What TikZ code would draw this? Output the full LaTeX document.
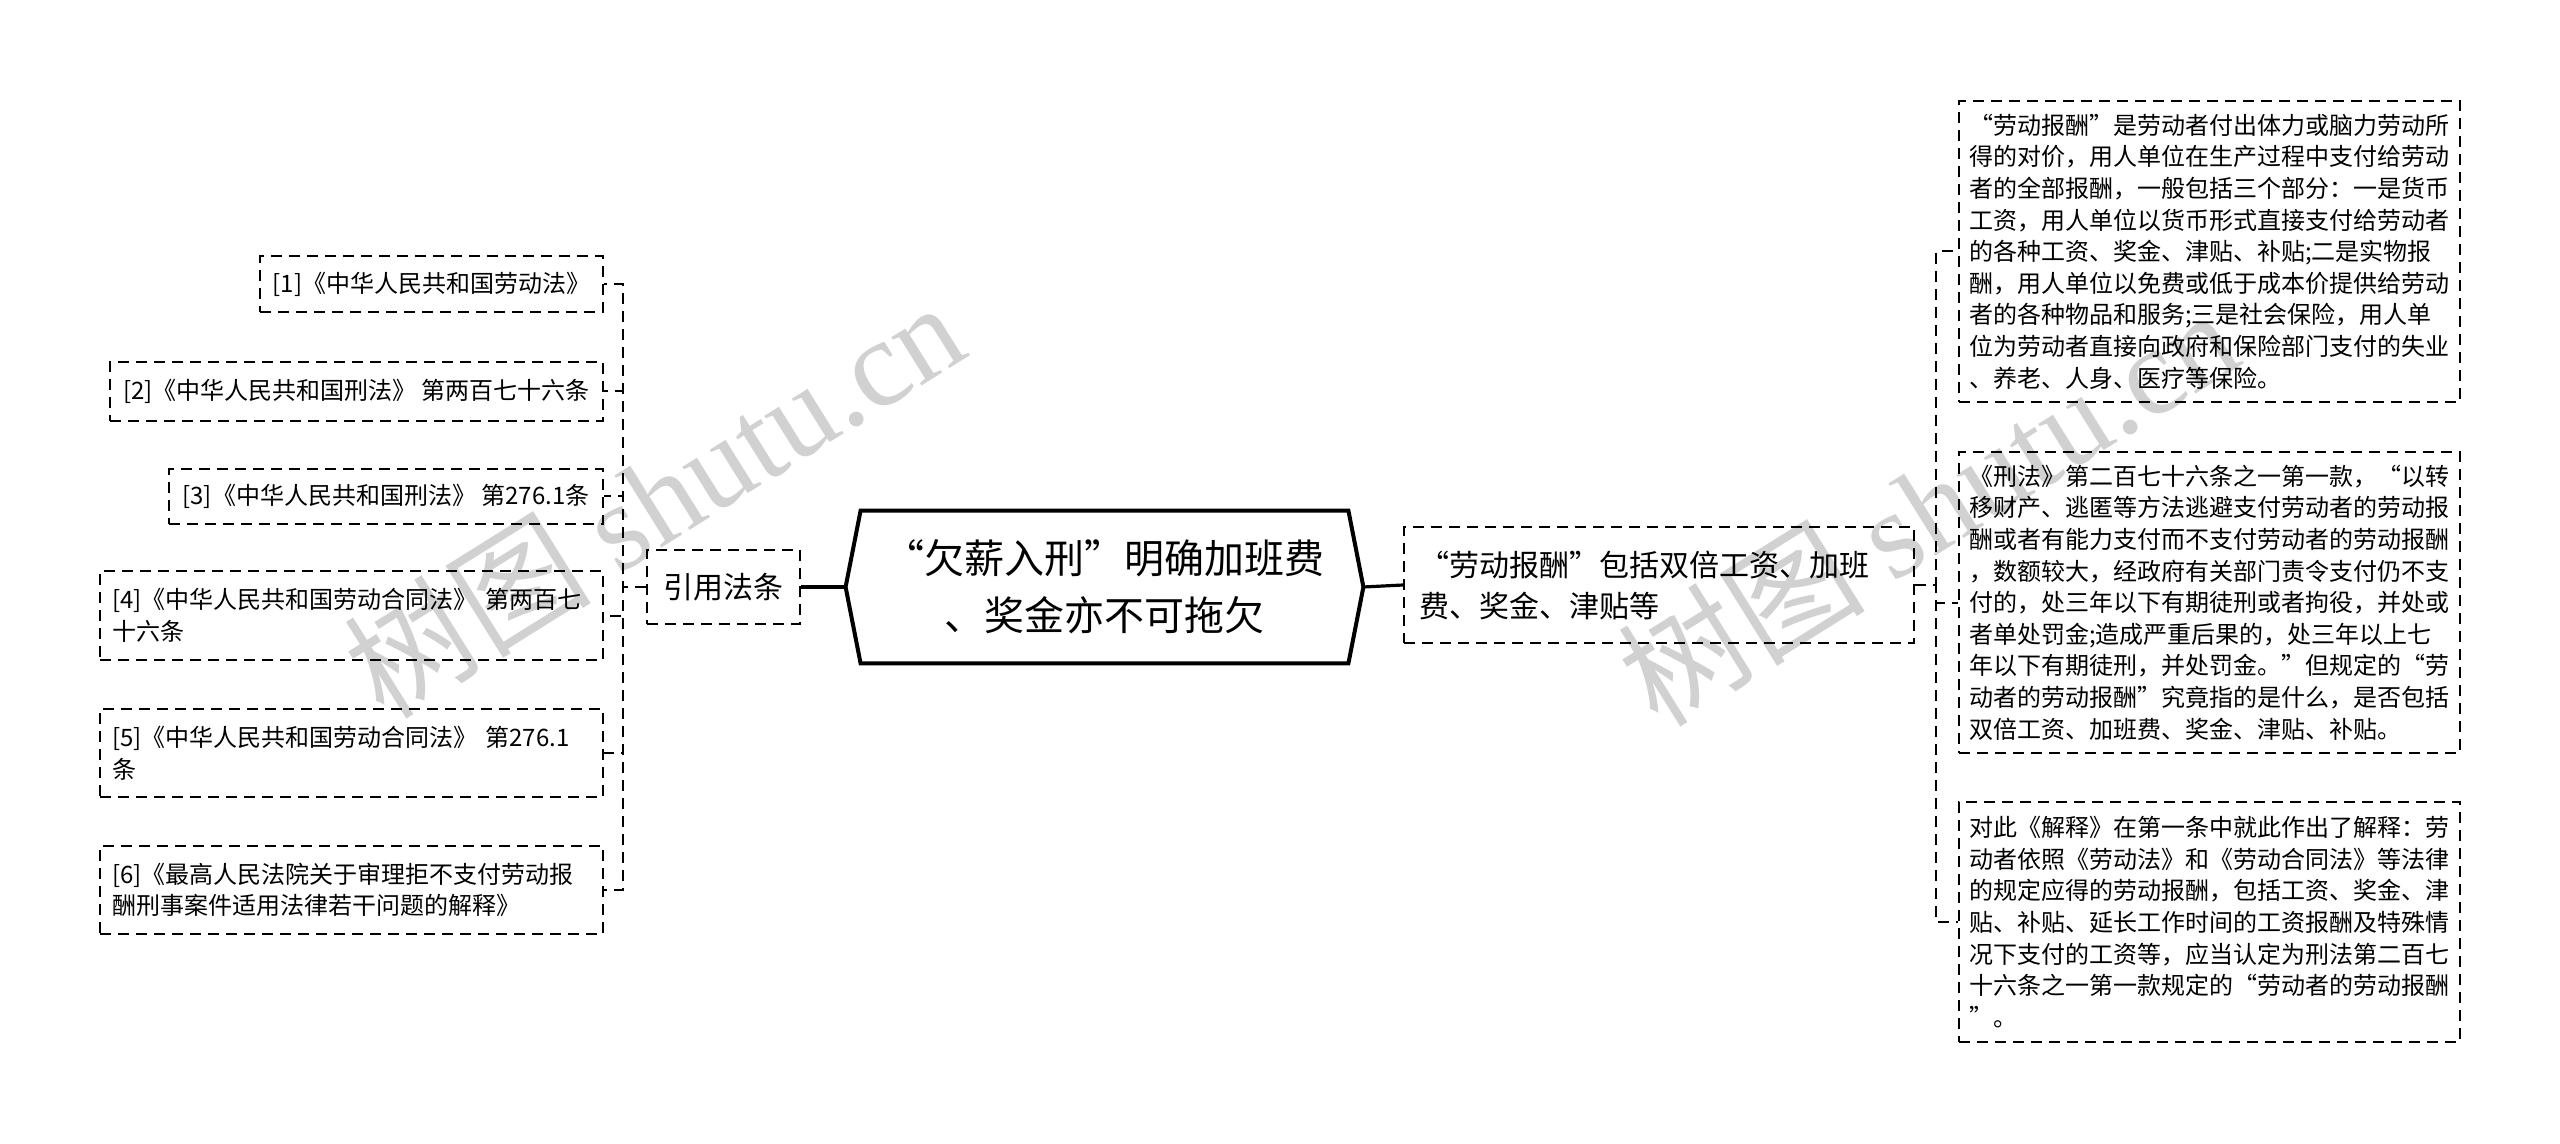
\documentclass[tikz,border=0pt]{standalone}
\usepackage{fontspec}
\setmainfont{Noto Sans CJK SC}
\newfontfamily\wmserif{Liberation Serif}
\usetikzlibrary{calc}

\tikzset{
  dashbox/.style={draw, line width=1pt, dash pattern=on 5.5pt off 3.5pt},
  leaf/.style={dashbox, font=\fontsize{12pt}{15.8pt}\selectfont, align=left, inner xsep=6pt},
  topic/.style={dashbox, font=\fontsize{15pt}{20.5pt}\selectfont, align=left, inner xsep=7.5pt},
  link/.style={line width=1pt, dash pattern=on 5.5pt off 3.5pt},
  rootlink/.style={line width=1.6pt},
  wmark/.style={text=black!18, font=\fontsize{62pt}{62pt}\selectfont, rotate=32}
}

\begin{document}
\begin{tikzpicture}[x=0.5pt,y=-0.5pt]
  \useasboundingbox (0,0) rectangle (2560,1144);

  % watermarks
  \node[wmark] (wm1) at (653,498) {树图 {\wmserif shutu.cn}};
  \node[wmark] (wm2) at (1927,506) {树图 {\wmserif shutu.cn}};

  % centre
  \node[font=\fontsize{20pt}{28.5pt}\selectfont, align=center, minimum width=258.5pt, minimum height=76pt] (root) at (1104.5,587) {“欠薪入刑”明确加班费\\、奖金亦不可拖欠};
  \draw[line width=2pt] (root.west) -- ($(root.north west)+(15,0)$) -- ($(root.north east)+(-15,0)$) -- (root.east) -- ($(root.south east)+(-15,0)$) -- ($(root.south west)+(15,0)$) -- cycle;

  \node[topic, minimum width=76.5pt, minimum height=37pt] (cite) at (723.5,587) {引用法条};
  \node[topic, text width=240pt, minimum height=58pt] (pay) at (1659,585) {“劳动报酬”包括双倍工资、加班\\费、奖金、津贴等};

  % left leaves
  \node[leaf, anchor=east, minimum width=171.5pt, minimum height=28pt] (law1) at (604,284) {[1]《中华人民共和国劳动法》};
  \node[leaf, anchor=east, minimum width=246.5pt, minimum height=29.5pt] (law2) at (604,391.5) {[2]《中华人民共和国刑法》 第两百七十六条};
  \node[leaf, anchor=east, minimum width=217pt, minimum height=27.5pt] (law3) at (604,496.5) {[3]《中华人民共和国刑法》 第276.1条};
  \node[leaf, anchor=east, text width=239.5pt, minimum height=44.5pt] (law4) at (604,615.5) {[4]《中华人民共和国劳动合同法》 第两百七\\十六条};
  \node[leaf, anchor=east, text width=239.5pt, minimum height=44pt] (law5) at (604,753) {[5]《中华人民共和国劳动合同法》 第276.1\\条};
  \node[leaf, anchor=east, text width=239.5pt, minimum height=44pt] (law6) at (604,890) {[6]《最高人民法院关于审理拒不支付劳动报\\酬刑事案件适用法律若干问题的解释》};

  % right leaves
  \node[leaf, anchor=west, text width=240.5pt, inner xsep=5pt, minimum height=150.5pt] (note1) at (1958,251.5) {“劳动报酬”是劳动者付出体力或脑力劳动所\\得的对价，用人单位在生产过程中支付给劳动\\者的全部报酬，一般包括三个部分：一是货币\\工资，用人单位以货币形式直接支付给劳动者\\的各种工资、奖金、津贴、补贴;二是实物报\\酬，用人单位以免费或低于成本价提供给劳动\\者的各种物品和服务;三是社会保险，用人单\\位为劳动者直接向政府和保险部门支付的失业\\、养老、人身、医疗等保险。};
  \node[leaf, anchor=west, text width=240.5pt, inner xsep=5pt, minimum height=150.5pt] (note2) at (1958,602.5) {《刑法》第二百七十六条之一第一款，“以转\\移财产、逃匿等方法逃避支付劳动者的劳动报\\酬或者有能力支付而不支付劳动者的劳动报酬\\，数额较大，经政府有关部门责令支付仍不支\\付的，处三年以下有期徒刑或者拘役，并处或\\者单处罚金;造成严重后果的，处三年以上七\\年以下有期徒刑，并处罚金。”但规定的“劳\\动者的劳动报酬”究竟指的是什么，是否包括\\双倍工资、加班费、奖金、津贴、补贴。};
  \node[leaf, anchor=west, text width=240.5pt, inner xsep=5pt, minimum height=120pt] (note3) at (1958,922) {对此《解释》在第一条中就此作出了解释：劳\\动者依照《劳动法》和《劳动合同法》等法律\\的规定应得的劳动报酬，包括工资、奖金、津\\贴、补贴、延长工作时间的工资报酬及特殊情\\况下支付的工资等，应当认定为刑法第二百七\\十六条之一第一款规定的“劳动者的劳动报酬\\”。};

  % connectors
  \foreach \n in {law1,law2,law3,law4,law5,law6}
    \draw[link] (cite.west) -- ++(-23,0) |- (\n.east);
  \draw[rootlink] (cite.east) -- (root.west);
  \draw[rootlink] (root.east) -- (pay.west);
  \foreach \n in {note1,note2,note3}
    \draw[link] (pay.east) -- ++(21,0) |- (\n.west);
\end{tikzpicture}
\end{document}
